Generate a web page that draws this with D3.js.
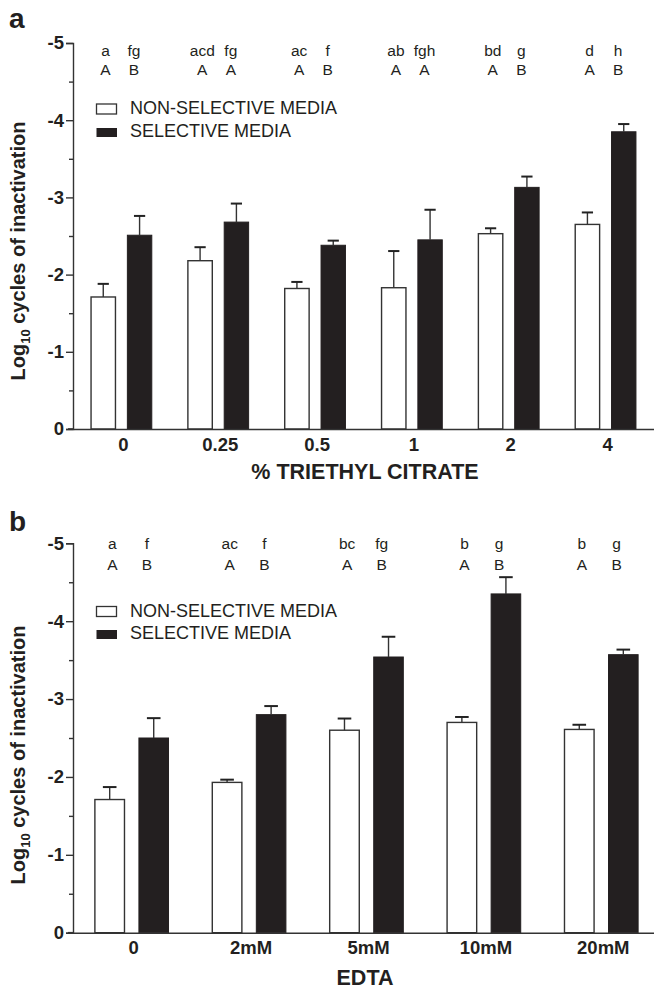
<!DOCTYPE html>
<html>
<head>
<meta charset="utf-8">
<script src="https://cdn.jsdelivr.net/npm/d3@7/dist/d3.min.js"></script>
<style>
  html, body { margin: 0; padding: 0; background: #fff; }
  svg { display: block; font-family: "Liberation Sans", Arial, Helvetica, sans-serif; }
</style>
</head>
<body>
<svg id="chart" width="654" height="988"></svg>
<script>
// ---------------- Panel a data: % triethyl citrate ----------------
const categoriesA = ["0", "0.25", "0.5", "1", "2", "4"];
const nonSelectiveA = [-1.71, -2.18, -1.82, -1.83, -2.53, -2.65];
const nonSelectiveErrA = [0.17, 0.175, 0.085, 0.475, 0.07, 0.155];
const selectiveA = [-2.51, -2.68, -2.38, -2.45, -3.13, -3.85];
const selectiveErrA = [0.25, 0.24, 0.06, 0.39, 0.14, 0.10];
const lowerLettersNonA = ["a", "acd", "ac", "ab", "bd", "d"];
const lowerLettersSelA = ["fg", "fg", "f", "fgh", "g", "h"];
const upperLettersNonA = ["A", "A", "A", "A", "A", "A"];
const upperLettersSelA = ["B", "A", "B", "A", "B", "B"];

// ---------------- Panel b data: EDTA ----------------
const categoriesB = ["0", "2mM", "5mM", "10mM", "20mM"];
const nonSelectiveB = [-1.71, -1.93, -2.60, -2.70, -2.61];
const nonSelectiveErrB = [0.16, 0.035, 0.15, 0.07, 0.06];
const selectiveB = [-2.50, -2.80, -3.54, -4.35, -3.57];
const selectiveErrB = [0.255, 0.11, 0.26, 0.215, 0.065];
const lowerLettersNonB = ["a", "ac", "bc", "b", "b"];
const lowerLettersSelB = ["f", "f", "fg", "g", "g"];
const upperLettersNonB = ["A", "A", "A", "A", "A"];
const upperLettersSelB = ["B", "B", "B", "B", "B"];

const yTicks = [0, -1, -2, -3, -4, -5];
const yMinorTicks = [-0.5, -1.5, -2.5, -3.5, -4.5];
const legendLabels = ["NON-SELECTIVE MEDIA", "SELECTIVE MEDIA"];
const yTitleMain = "Log";
const yTitleSub = "10";
const yTitleRest = " cycles of inactivation";

const INK = "#231f20";
const svg = d3.select("#chart");

function drawPanel(cfg) {
  const g = svg.append("g");
  const y = d3.scaleLinear().domain([0, -5]).range([cfg.yBase, cfg.yTop]);
  const x0 = d3.scaleBand().domain(cfg.categories).range([73, cfg.xEnd]);
  const x1 = d3.scaleBand().domain(["non", "sel"]).range([0, x0.bandwidth()])
    .paddingInner(0.328).paddingOuter(0.497);
  const B = x0.bandwidth();

  const rows = cfg.categories.map((c, i) => ({
    cat: c,
    non: cfg.non[i], nonErr: cfg.nonErr[i],
    sel: cfg.sel[i], selErr: cfg.selErr[i],
    lowNon: cfg.lowNon[i], lowSel: cfg.lowSel[i],
    upNon: cfg.upNon[i], upSel: cfg.upSel[i]
  }));

  // panel letter
  g.append("text").attr("x", 9).attr("y", cfg.panelLabelY)
    .attr("font-size", 28).attr("font-weight", "bold").attr("fill", INK)
    .text(cfg.panelLabel);

  // y axis
  const yAxis = d3.axisLeft(y).tickValues(yTicks).tickSize(7).tickPadding(2)
    .tickFormat(d => d === 0 ? "0" : "-" + Math.abs(d));
  const ya = g.append("g").attr("transform", "translate(73,0)").call(yAxis);
  ya.select(".domain").attr("stroke", "#333").attr("stroke-width", 1.4);
  ya.selectAll(".tick line").attr("stroke", "#333").attr("stroke-width", 1.4);
  ya.selectAll(".tick text").attr("font-size", 18.5).attr("font-weight", "bold")
    .attr("fill", INK).attr("font-family", "Liberation Sans, Arial, sans-serif");
  const yMinor = d3.axisLeft(y).tickValues(yMinorTicks).tickSize(4).tickFormat("");
  const ym = g.append("g").attr("transform", "translate(73,0)").call(yMinor);
  ym.select(".domain").remove();
  ym.selectAll(".tick line").attr("stroke", "#333").attr("stroke-width", 1.4);

  // y title
  const yt = g.append("text")
    .attr("transform", `translate(25,${cfg.yTitleCenter}) rotate(-90)`)
    .attr("text-anchor", "middle").attr("font-size", 20).attr("font-weight", "bold")
    .attr("fill", INK);
  yt.append("tspan").text(yTitleMain);
  yt.append("tspan").attr("font-size", 13).attr("dy", 5).text(yTitleSub);
  yt.append("tspan").attr("dy", -5).text(yTitleRest);

  // bars
  const groups = g.selectAll(".grp").data(rows).join("g")
    .attr("transform", d => `translate(${x0(d.cat)},0)`);

  groups.append("rect")
    .attr("x", x1("non")).attr("width", x1.bandwidth())
    .attr("y", d => y(d.non)).attr("height", d => y(0) - y(d.non))
    .attr("fill", "#fff").attr("stroke", "#333").attr("stroke-width", 1.4);
  groups.append("rect")
    .attr("x", x1("sel")).attr("width", x1.bandwidth())
    .attr("y", d => y(d.sel)).attr("height", d => y(0) - y(d.sel))
    .attr("fill", INK).attr("stroke", INK).attr("stroke-width", 1);

  // error bars
  const capW = x1.bandwidth() * 0.46;
  [["non", "nonErr"], ["sel", "selErr"]].forEach(([k, e]) => {
    const cx = x1(k) + x1.bandwidth() / 2;
    groups.append("line")
      .attr("x1", cx).attr("x2", cx)
      .attr("y1", d => y(d[k])).attr("y2", d => y(d[k] - d[e]))
      .attr("stroke", "#333").attr("stroke-width", 1.4);
    groups.append("line")
      .attr("x1", cx - capW / 2).attr("x2", cx + capW / 2)
      .attr("y1", d => y(d[k] - d[e])).attr("y2", d => y(d[k] - d[e]))
      .attr("stroke", "#222").attr("stroke-width", 2);
  });

  // significance letters
  const lx = [B * 0.5 - B * 0.165, B * 0.5 + B * 0.13];
  const letterRows = [
    ["lowNon", lx[0], cfg.lowY], ["lowSel", lx[1], cfg.lowY],
    ["upNon", lx[0], cfg.upY], ["upSel", lx[1], cfg.upY]
  ];
  letterRows.forEach(([k, xx, yy]) => {
    groups.append("text").attr("x", xx).attr("y", yy)
      .attr("text-anchor", "middle").attr("font-size", 15.5).attr("fill", INK)
      .text(d => d[k]);
  });

  // x axis
  const xAxis = d3.axisBottom(x0).tickSize(0).tickPadding(0).tickSizeOuter(0);
  const xa = g.append("g").attr("transform", `translate(0,${cfg.yBase})`).call(xAxis);
  xa.select(".domain").attr("stroke", "#333").attr("stroke-width", 1.6);
  xa.selectAll(".tick text").attr("font-size", 18.5).attr("font-weight", "bold")
    .attr("fill", INK).attr("font-family", "Liberation Sans, Arial, sans-serif")
    .attr("dy", null).attr("y", 21.5).attr("x", 2);
  g.append("line").attr("x1", 68).attr("x2", 74).attr("y1", cfg.yBase).attr("y2", cfg.yBase)
    .attr("stroke", "#333").attr("stroke-width", 1.6);

  // x title
  g.append("text").attr("x", 365).attr("y", cfg.xTitleY)
    .attr("text-anchor", "middle").attr("font-size", 21.5).attr("font-weight", "bold")
    .attr("fill", INK).text(cfg.xTitle);

  // legend
  g.append("rect").attr("x", 96.5).attr("y", cfg.legY1).attr("width", 20).attr("height", 10)
    .attr("fill", "#fff").attr("stroke", "#333").attr("stroke-width", 1.3);
  g.append("rect").attr("x", 96.5).attr("y", cfg.legY2).attr("width", 20.5).attr("height", 9)
    .attr("fill", INK);
  g.append("text").attr("x", 130).attr("y", cfg.legY1 + 10)
    .attr("font-size", 18).attr("fill", INK).text(legendLabels[0]);
  g.append("text").attr("x", 130).attr("y", cfg.legY2 + 8.5)
    .attr("font-size", 18).attr("fill", INK).text(legendLabels[1]);
}

drawPanel({
  categories: categoriesA, non: nonSelectiveA, nonErr: nonSelectiveErrA,
  sel: selectiveA, selErr: selectiveErrA,
  lowNon: lowerLettersNonA, lowSel: lowerLettersSelA,
  upNon: upperLettersNonA, upSel: upperLettersSelA,
  yBase: 429, yTop: 43, xEnd: 654,
  panelLabel: "a", panelLabelY: 28,
  lowY: 56, upY: 75, legY1: 104, legY2: 128,
  yTitleCenter: 251, xTitle: "% TRIETHYL CITRATE", xTitleY: 478.5
});

drawPanel({
  categories: categoriesB, non: nonSelectiveB, nonErr: nonSelectiveErrB,
  sel: selectiveB, selErr: selectiveErrB,
  lowNon: lowerLettersNonB, lowSel: lowerLettersSelB,
  upNon: upperLettersNonB, upSel: upperLettersSelB,
  yBase: 932.7, yTop: 543.3, xEnd: 660,
  panelLabel: "b", panelLabelY: 531,
  lowY: 549, upY: 569.5, legY1: 606.5, legY2: 630,
  yTitleCenter: 755, xTitle: "EDTA", xTitleY: 984.5
});
</script>
</body>
</html>
